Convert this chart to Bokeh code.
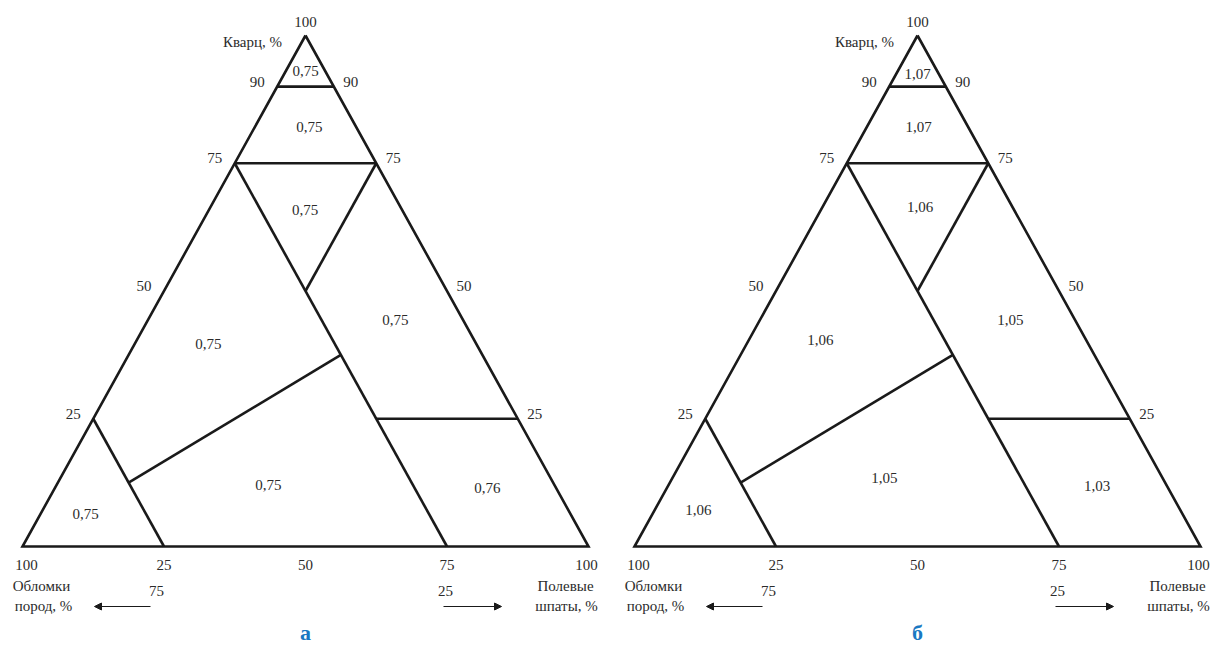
from bokeh.plotting import figure
from bokeh.models import Arrow, NormalHead, Range1d
from bokeh.core.properties import value
from bokeh.embed import file_html
from bokeh.resources import INLINE

# Field values of the two ternary diagrams (Quartz - Feldspar - Rock fragments)
panel_letters = ["а", "б"]
field_values_a = ["0,75", "0,75", "0,75", "0,75", "0,75", "0,75", "0,75", "0,76"]
field_values_b = ["1,07", "1,07", "1,06", "1,06", "1,05", "1,05", "1,06", "1,03"]

# Label anchors of the fields, as (quartz %, feldspar %)
anchor_q_a = [93.0, 82.0, 65.9, 39.7, 44.4, 12.1, 6.3, 11.5]
anchor_f_a = [3.5, 9.7, 17.0, 13.0, 43.7, 37.4, 8.0, 76.4]
anchor_q_b = [92.4, 82.0, 66.5, 40.5, 44.4, 13.5, 7.2, 11.9]
anchor_f_b = [3.8, 9.2, 17.2, 12.6, 44.2, 37.4, 7.7, 75.8]

# Side tick labels (quartz %) and base tick labels (feldspar %)
side_ticks = [90, 75, 50, 25]
base_ticks = [0, 25, 50, 75, 100]
base_tick_labels = ["100", "25", "50", "75", "100"]

# Classification boundaries as segments in (quartz %, feldspar %)
boundaries = [
    [(100, 0), (0, 0), (0, 100), (100, 0)],   # outline
    [(90, 0), (90, 10)],                      # Q = 90
    [(75, 0), (75, 25)],                      # Q = 75
    [(75, 0), (0, 75)],                       # L = 25
    [(75, 25), (50, 25)],                     # F = 25
    [(37.5, 37.5), (12.5, 12.5)],             # Q = F
    [(25, 0), (0, 25)],                       # L = 75
    [(25, 50), (25, 75)],                     # Q = 25 (feldspar side)
]

W, H = 1213, 663
TRI_W, TRI_H = 566, 511
BASE_Y = 117
PANEL_X0 = [22, 634]
SERIF = value("Liberation Serif")
INK = "#1a1a1a"
TEXT = "#2b2b2b"

p = figure(width=W, height=H, output_backend="svg", toolbar_location=None,
           x_range=Range1d(0, W), y_range=Range1d(0, H), min_border=0)
p.axis.visible = False
p.grid.visible = False
p.outline_line_color = None
p.background_fill_color = "white"


def proj(x0, q, f):
    return x0 + TRI_W * (f + q / 2.0) / 100.0, BASE_Y + TRI_H * q / 100.0


def label(x, y, txt, size="15px", color=TEXT, style="normal"):
    p.text(x=[x], y=[y], text=[txt], text_font=SERIF, text_font_size=size,
           text_color=color, text_align="center", text_baseline="middle",
           text_font_style=style)


panels = [
    (PANEL_X0[0], field_values_a, anchor_q_a, anchor_f_a, panel_letters[0]),
    (PANEL_X0[1], field_values_b, anchor_q_b, anchor_f_b, panel_letters[1]),
]

for x0, vals, aq, af, letter in panels:
    xs, ys = [], []
    for seg in boundaries:
        pts = [proj(x0, q, f) for q, f in seg]
        xs.append([pt[0] for pt in pts])
        ys.append([pt[1] for pt in pts])
    p.multi_line(xs=xs, ys=ys, line_color=INK, line_width=2.6, line_join="miter")

    # field values
    fx, fy = zip(*[proj(x0, q, f) for q, f in zip(aq, af)])
    p.text(x=list(fx), y=list(fy), text=vals, text_font=SERIF, text_font_size="15px",
           text_color=TEXT, text_align="center", text_baseline="middle")

    # apex label and quartz title
    ax, ay = proj(x0, 100, 0)
    label(ax, ay + 14, "100")
    label(ax - 53, ay - 6, "Кварц, %")

    # side ticks
    for q in side_ticks:
        lx, ly = proj(x0, q, 0)
        label(lx - 20, ly + 5, str(q))
        rx, ry = proj(x0, q, 100 - q)
        label(rx + 17, ry + 5, str(q))

    # base ticks
    for f, t in zip(base_ticks, base_tick_labels):
        bx, by = proj(x0, 0, f)
        label(bx + (4 if f == 0 else (-2 if f == 100 else 0)), by - 18, t)

    # corner titles with direction arrows
    label(x0 + 19, 78, "Обломки")
    label(x0 + 21, 58, "пород, %")
    label(x0 + 543, 78, "Полевые")
    label(x0 + 544, 58, "шпаты, %")
    label(x0 + 134, 73, "75")
    label(x0 + 423, 73, "25")
    p.add_layout(Arrow(x_start=x0 + 128, y_start=57, x_end=x0 + 72, y_end=57,
                       line_color=INK, line_width=1.2,
                       end=NormalHead(size=7, fill_color=INK, line_color=INK, line_width=1)))
    p.add_layout(Arrow(x_start=x0 + 421, y_start=57, x_end=x0 + 479, y_end=57,
                       line_color=INK, line_width=1.2,
                       end=NormalHead(size=7, fill_color=INK, line_color=INK, line_width=1)))

    # panel letter
    label(x0 + 283, 31, letter, size="22px", color="#1a78c2", style="bold")

open("out.html", "w").write(file_html(p, INLINE))
